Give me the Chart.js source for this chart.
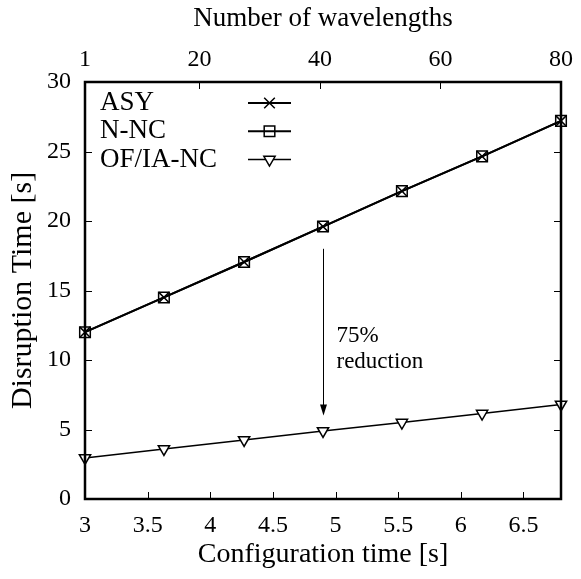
<!DOCTYPE html>
<html>
<head>
<meta charset="utf-8">
<script src="https://cdn.jsdelivr.net/npm/chart.js@4.4.0/dist/chart.umd.min.js"></script>
<style>
  html, body { margin: 0; padding: 0; background: #fff; }
  #wrap { width: 581px; height: 579px; }
</style>
</head>
<body>
<div id="wrap"><canvas id="myChart" width="581" height="579"></canvas></div>
<script>
// configuration time [s] of each point
const configTime = [3, 3.63, 4.27, 4.9, 5.53, 6.17, 6.8];
// disruption time [s]
const asyValues = [12.0, 14.5, 17.05, 19.6, 22.15, 24.65, 27.2];
const nncValues = [12.0, 14.5, 17.05, 19.6, 22.15, 24.65, 27.2];
const ofiaValues = [2.95, 3.6, 4.25, 4.9, 5.5, 6.15, 6.8];

const xTicks = [3, 3.5, 4, 4.5, 5, 5.5, 6, 6.5];
const topTicks = [1, 20, 40, 60, 80];
const yTicks = [0, 5, 10, 15, 20, 25, 30];

// arrow annotation (x, from y, to y)
const arrowX = 4.9;
const arrowFrom = 18.0;
const arrowTo = 6.0;

const serif = '"Liberation Serif", "DejaVu Serif", serif';

document.addEventListener('DOMContentLoaded', function() {
    const ctx = document.getElementById('myChart').getContext('2d');

    const toPoints = (ys) => configTime.map((x, i) => ({ x: x, y: ys[i] }));

    // frame, inward ticks and the reduction arrow
    const framePlugin = {
        id: 'frame',
        afterDraw(chart) {
            const c = chart.ctx;
            const area = chart.chartArea;
            const xs = chart.scales.x;
            const xt = chart.scales.x2;
            const ys = chart.scales.y;
            const tl = 7;
            c.save();
            c.strokeStyle = '#000';
            c.lineWidth = 1;
            c.beginPath();
            xTicks.forEach(v => {
                if (v === 3) return;
                const px = Math.round(xs.getPixelForValue(v)) + 0.5;
                c.moveTo(px, area.bottom);
                c.lineTo(px, area.bottom - tl);
            });
            topTicks.forEach(v => {
                if (v === 1 || v === 80) return;
                const px = Math.round(xt.getPixelForValue(v)) + 0.5;
                c.moveTo(px, area.top);
                c.lineTo(px, area.top + tl);
            });
            yTicks.forEach(v => {
                if (v === 0 || v === 30) return;
                const py = Math.round(ys.getPixelForValue(v)) + 0.5;
                c.moveTo(area.left, py);
                c.lineTo(area.left + tl, py);
                c.moveTo(area.right, py);
                c.lineTo(area.right - tl, py);
            });
            c.stroke();

            c.lineWidth = 2.5;
            c.strokeRect(area.left, area.top, area.right - area.left, area.bottom - area.top);

            // arrow
            const ax = Math.round(xs.getPixelForValue(arrowX)) + 0.5;
            const a0 = ys.getPixelForValue(arrowFrom);
            const a1 = ys.getPixelForValue(arrowTo);
            c.lineWidth = 1;
            c.beginPath();
            c.moveTo(ax, a0);
            c.lineTo(ax, a1 - 8);
            c.stroke();
            c.beginPath();
            c.moveTo(ax, a1);
            c.lineTo(ax - 3.5, a1 - 11);
            c.lineTo(ax + 3.5, a1 - 11);
            c.closePath();
            c.fillStyle = '#000';
            c.fill();

            c.font = '23px ' + serif;
            c.textAlign = 'left';
            c.textBaseline = 'alphabetic';
            c.fillText('75%', ax + 13, ys.getPixelForValue(11.3));
            c.fillText('reduction', ax + 13, ys.getPixelForValue(9.42));
            c.restore();
        }
    };

    // gnuplot-style key: text left, sample line + marker right
    const keyPlugin = {
        id: 'keyBox',
        afterDraw(chart) {
            const c = chart.ctx;
            const area = chart.chartArea;
            const rows = chart.data.datasets;
            c.save();
            c.font = '27px ' + serif;
            c.textBaseline = 'middle';
            c.textAlign = 'left';
            rows.forEach((ds, i) => {
                const y = area.top + 21 + i * 28.3;
                c.fillStyle = '#000';
                c.fillText(ds.label, area.left + 15, y);
                c.strokeStyle = '#000';
                c.lineWidth = ds.borderWidth;
                c.beginPath();
                c.moveTo(area.left + 163, y);
                c.lineTo(area.left + 206, y);
                c.stroke();
                c.fillStyle = ds.backgroundColor;
                c.lineWidth = ds.pointBorderWidth;
                Chart.helpers.drawPoint(c, {
                    pointStyle: ds.pointStyle,
                    rotation: ds.rotation || 0,
                    radius: ds.pointRadius,
                    borderWidth: ds.pointBorderWidth
                }, area.left + 184.5, y);
            });
            c.restore();
        }
    };

    const tickFont = { family: serif, size: 24 };

    const chart = new Chart(ctx, {
        type: 'line',
        data: {
            datasets: [
                {
                    label: 'ASY',
                    data: toPoints(asyValues),
                    borderColor: '#000',
                    backgroundColor: 'rgba(0,0,0,0)',
                    borderWidth: 2,
                    pointStyle: 'crossRot',
                    pointRadius: 7.5,
                    pointBorderWidth: 1.5,
                    tension: 0
                },
                {
                    label: 'N-NC',
                    data: toPoints(nncValues),
                    borderColor: '#000',
                    backgroundColor: 'rgba(0,0,0,0)',
                    borderWidth: 2,
                    pointStyle: 'rect',
                    pointRadius: 7.5,
                    pointBorderWidth: 1.5,
                    tension: 0
                },
                {
                    label: 'OF/IA-NC',
                    data: toPoints(ofiaValues),
                    borderColor: '#000',
                    backgroundColor: '#fff',
                    borderWidth: 1.5,
                    pointStyle: 'triangle',
                    rotation: 180,
                    pointRadius: 6.5,
                    pointBorderWidth: 1.5,
                    tension: 0
                }
            ]
        },
        options: {
            responsive: false,
            animation: false,
            clip: false,
            layout: { padding: { right: 16, left: 0, top: 0, bottom: 0 } },
            plugins: {
                legend: { display: false },
                tooltip: { enabled: false }
            },
            scales: {
                x: {
                    type: 'linear',
                    position: 'bottom',
                    min: 3,
                    max: 6.8,
                    afterBuildTicks: (s) => { s.ticks = xTicks.map(v => ({ value: v })); },
                    afterFit: (s) => { s.height = 80; },
                    grid: { display: false, drawTicks: false },
                    border: { display: false },
                    ticks: {
                        color: '#000',
                        font: tickFont,
                        padding: 12,
                        maxRotation: 0,
                        autoSkip: false,
                        callback: (v) => String(v)
                    },
                    title: {
                        display: true,
                        text: 'Configuration time [s]',
                        color: '#000',
                        font: { family: serif, size: 28 },
                        padding: { top: 0, bottom: 8 }
                    }
                },
                x2: {
                    type: 'linear',
                    position: 'top',
                    min: 1,
                    max: 80,
                    afterBuildTicks: (s) => { s.ticks = topTicks.map(v => ({ value: v })); },
                    afterFit: (s) => { s.height = 82; },
                    grid: { display: false, drawTicks: false },
                    border: { display: false },
                    ticks: {
                        color: '#000',
                        font: tickFont,
                        padding: 8,
                        maxRotation: 0,
                        autoSkip: false,
                        callback: (v) => String(v)
                    },
                    title: {
                        display: true,
                        text: 'Number of wavelengths',
                        color: '#000',
                        font: { family: serif, size: 27 },
                        padding: { top: 3, bottom: 0 }
                    }
                },
                y: {
                    type: 'linear',
                    min: 0,
                    max: 30,
                    afterBuildTicks: (s) => { s.ticks = yTicks.map(v => ({ value: v })); },
                    afterFit: (s) => { s.width = 85; },
                    grid: { display: false, drawTicks: false },
                    border: { display: false },
                    ticks: {
                        color: '#000',
                        font: tickFont,
                        padding: 14
                    },
                    title: {
                        display: true,
                        text: 'Disruption Time [s]',
                        color: '#000',
                        font: { family: serif, size: 30 },
                        padding: { top: 5, bottom: 0 }
                    }
                }
            }
        },
        plugins: [framePlugin, keyPlugin]
    });
});
</script>
</body>
</html>
